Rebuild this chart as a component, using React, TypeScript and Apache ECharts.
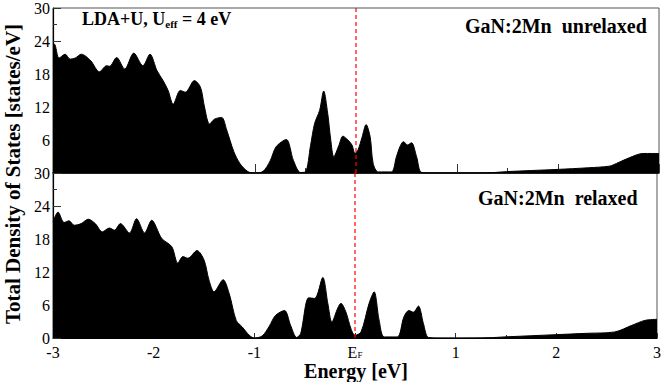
import React, { useEffect, useRef } from "react";
import * as echarts from "echarts";

const energyTop = [-3.0, -2.98, -2.94, -2.88, -2.83, -2.78, -2.72, -2.63, -2.54, -2.47, -2.44, -2.37, -2.29, -2.2, -2.11, -2.04, -1.97, -1.91, -1.86, -1.81, -1.74, -1.69, -1.6, -1.54, -1.5, -1.45, -1.4, -1.33, -1.28, -1.21, -1.15, -1.07, -1.0, -0.92, -0.85, -0.79, -0.69, -0.62, -0.55, -0.5, -0.45, -0.41, -0.36, -0.32, -0.28, -0.25, -0.22, -0.17, -0.13, -0.08, -0.04, -0.01, 0.02, 0.06, 0.1, 0.14, 0.17, 0.22, 0.35, 0.4, 0.44, 0.47, 0.51, 0.55, 0.6, 0.65, 0.8, 1.0, 1.33, 1.49, 1.99, 2.3, 2.51, 2.58, 2.71, 2.84, 3.0];
const dosTop = [23.6, 23.3, 20.9, 21.6, 20.7, 20.9, 21.6, 20.5, 18.4, 19.5, 19.4, 21.0, 18.9, 21.8, 19.5, 21.6, 18.6, 16.8, 15.0, 12.5, 15.0, 14.7, 16.8, 15.6, 12.0, 8.9, 9.8, 10.1, 7.8, 3.9, 1.75, 0.25, 0, 0.3, 2.2, 4.8, 6.1, 2.3, 0.1, 0.2, 5.0, 9.0, 11.4, 14.9, 10.8, 6.0, 2.95, 5.0, 6.7, 6.0, 5.1, 3.6, 4.2, 6.5, 8.8, 6.6, 1.75, 0.2, 0.2, 2.95, 5.0, 5.7, 5.1, 5.5, 2.95, 0.1, 0, 0, 0.05, 0.25, 0.65, 0.95, 1.25, 1.75, 2.8, 3.55, 3.55];

const energyBottom = [-3.0, -2.95, -2.89, -2.84, -2.79, -2.72, -2.65, -2.58, -2.51, -2.44, -2.39, -2.33, -2.24, -2.17, -2.09, -2.02, -1.92, -1.82, -1.76, -1.71, -1.66, -1.57, -1.5, -1.45, -1.4, -1.31, -1.25, -1.18, -1.12, -1.05, -1.0, -0.92, -0.85, -0.79, -0.7, -0.64, -0.58, -0.54, -0.46, -0.4, -0.32, -0.27, -0.23, -0.17, -0.14, -0.09, -0.04, 0.0, 0.06, 0.14, 0.19, 0.24, 0.29, 0.42, 0.485, 0.535, 0.58, 0.63, 0.68, 0.73, 0.85, 1.0, 1.33, 1.49, 1.99, 2.3, 2.58, 2.75, 2.88, 3.0];
const dosBottom = [21.1, 22.9, 21.0, 21.3, 20.5, 20.8, 21.6, 20.8, 19.3, 20.0, 19.6, 20.8, 19.1, 21.7, 19.1, 21.4, 18.1, 16.6, 13.6, 14.8, 14.5, 15.9, 14.2, 10.5, 8.4, 10.6, 8.1, 3.2, 2.0, 0.5, 0, 0.4, 2.2, 4.1, 5.0, 2.3, 0.1, 0.8, 7.3, 7.2, 11.0, 6.3, 2.9, 5.5, 6.3, 4.7, 1.7, 0.5, 1.1, 6.3, 8.4, 3.2, 0.2, 0.2, 3.8, 5.0, 4.7, 5.8, 2.6, 0.1, 0, 0, 0.05, 0.2, 0.6, 0.85, 1.1, 2.3, 3.2, 3.4];

// Fermi level reference line (E = 0) spanning the full y range
const fermiLine = [[0, 0], [0, 30]];

const FONT = "Liberation Serif";

export default function App() {
  const ref = useRef<HTMLDivElement>(null);
  useEffect(() => {
    if (!ref.current) return;
    const chart = echarts.init(ref.current, undefined, { renderer: "svg" });
    const pair = (xs: number[], ys: number[]) => xs.map((x, i) => [x, ys[i]]);
    const yAxisBase = (gi: number, hideZero: boolean) => ({
      gridIndex: gi,
      type: "value",
      min: 0,
      max: 30,
      interval: 6,
      axisLine: { show: true, onZero: false, lineStyle: { color: "#000", width: 1.2 } },
      axisTick: { inside: true, length: 8, lineStyle: { color: "#333" } },
      minorTick: { show: true, splitNumber: 2, length: 4, lineStyle: { color: "#333" } },
      splitLine: { show: false },
      axisLabel: {
        color: "#000",
        fontFamily: FONT,
        fontSize: 16,
        lineHeight: 12,
        margin: 3,
        formatter: (v: number) => (hideZero && v === 0 ? "" : String(v)),
      },
    });
    const seriesBase = {
      type: "line",
      showSymbol: false,
      smooth: 0.3,
      lineStyle: { color: "#000", width: 1 },
      itemStyle: { color: "#000" },
      areaStyle: { color: "#000", opacity: 1 },
      z: 2,
    };
    const fermiBase = {
      type: "line",
      showSymbol: false,
      silent: true,
      data: fermiLine,
      lineStyle: { color: "#f00", type: [4, 3], width: 1.2 },
      itemStyle: { color: "#f00" },
      z: 6,
    };
    chart.setOption({
      animation: false,
      grid: [
        { left: 53, top: 7, width: 606, height: 166, show: true, borderColor: "#555", borderWidth: 1 },
        { left: 53, top: 173, width: 606, height: 165, show: true, borderColor: "#555", borderWidth: 1 },
      ],
      xAxis: [
        {
          gridIndex: 0,
          type: "value",
          min: -3,
          max: 3,
          interval: 1,
          axisLabel: { show: false },
          axisLine: { show: true, onZero: false, lineStyle: { color: "#000", width: 1.5 } },
          axisTick: { inside: true, length: 9, lineStyle: { color: "#333" } },
          minorTick: { show: true, splitNumber: 2, length: 5, lineStyle: { color: "#333" } },
          splitLine: { show: false },
        },
        {
          gridIndex: 1,
          type: "value",
          min: -3,
          max: 3,
          interval: 1,
          axisLine: { show: true, onZero: false, lineStyle: { color: "#000", width: 1.2 } },
          axisTick: { inside: true, length: 5, lineStyle: { color: "#333" } },
          minorTick: { show: true, splitNumber: 2, length: 3, lineStyle: { color: "#333" } },
          splitLine: { show: false },
          axisLabel: {
            color: "#000",
            fontFamily: FONT,
            fontSize: 16,
            margin: 6,
            formatter: (v: number) => (v === 0 ? "{e|E}{f|F}" : String(v)),
            rich: {
              e: { fontFamily: FONT, fontSize: 16, color: "#000" },
              f: { fontFamily: FONT, fontSize: 9, color: "#000", padding: [5, 0, 0, 0] },
            },
          },
        },
      ],
      yAxis: [yAxisBase(0, true), yAxisBase(1, false)],
      series: [
        { ...seriesBase, xAxisIndex: 0, yAxisIndex: 0, data: pair(energyTop, dosTop) },
        { ...seriesBase, xAxisIndex: 1, yAxisIndex: 1, data: pair(energyBottom, dosBottom) },
        { ...fermiBase, xAxisIndex: 0, yAxisIndex: 0 },
        { ...fermiBase, xAxisIndex: 1, yAxisIndex: 1 },
      ],
      graphic: [
        {
          type: "text",
          x: 13,
          y: 174,
          rotation: Math.PI / 2,
          style: {
            text: "Total Density of States [states/eV]",
            fontFamily: FONT,
            fontWeight: "bold",
            fontSize: 21,
            fill: "#000",
            textAlign: "center",
            textVerticalAlign: "middle",
          },
        },
        {
          type: "text",
          x: 356,
          y: 371,
          style: {
            text: "Energy [eV]",
            fontFamily: FONT,
            fontWeight: "bold",
            fontSize: 20,
            fill: "#000",
            textAlign: "center",
            textVerticalAlign: "middle",
          },
        },
        {
          type: "text",
          x: 82,
          y: 8,
          style: {
            text: "{b|LDA+U, U}{s|eff}{b| = 4 eV}",
            rich: {
              b: { fontFamily: FONT, fontWeight: "bold", fontSize: 18, fill: "#000", lineHeight: 22 },
              s: { fontFamily: FONT, fontWeight: "bold", fontSize: 11, fill: "#000", padding: [10, 0, 0, 0] },
            },
          },
        },
        {
          type: "text",
          x: 465,
          y: 26,
          style: {
            text: "GaN:2Mn  unrelaxed",
            fontFamily: FONT,
            fontWeight: "bold",
            fontSize: 20,
            fill: "#000",
            textVerticalAlign: "middle",
          },
        },
        {
          type: "text",
          x: 478,
          y: 198,
          style: {
            text: "GaN:2Mn  relaxed",
            fontFamily: FONT,
            fontWeight: "bold",
            fontSize: 20,
            fill: "#000",
            textVerticalAlign: "middle",
          },
        },
      ],
    });
    return () => chart.dispose();
  }, []);
  return (
    <div
      ref={ref}
      style={{ position: "fixed", left: 0, top: 0, width: 664, height: 382, background: "#fff" }}
    />
  );
}
